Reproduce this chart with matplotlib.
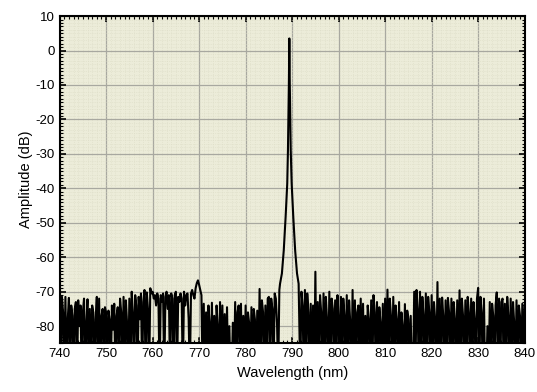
#! /usr/bin/env python3
#
# optical spectrum, single narrow line near 789 nm
#
import numpy as np
import matplotlib
matplotlib.use('Agg')
import matplotlib.pyplot as plt
from matplotlib.ticker import MultipleLocator

plt.rcParams['font.family'] = ['Liberation Sans', 'DejaVu Sans']
plt.rcParams['axes.unicode_minus'] = False

F = -95.0  # trace drops below the displayed floor

# noise, 0.25 nm steps, 740.00 .. 787.25
noise_left_start = 740.0
noise_left_db = [
    -72, F, -71.5, -76, F, -71.5, F, -78, -71.8, F, -74, -77, F, -75, -73, F, -72.5, -80, -74, F,        # 740
    -76, -72, F, -79, -72.2, F, -75, F, -74, -76, F, -78, -71.5, F, -72, F, -77, -75, F, -74.5,          # 745
    -76, F, -75.5, -78, F, -74, -81, -73.5, F, -77, -74.5, F, -72, -76, F, -71.5, F, -72.5, -79, F,      # 750
    -72, F, -70, -76, F, -71, -74, F, -71.5, -78, -70.5, F, -73, -69.5, F, -70.2, -75, F, -69, -70.5,    # 755
    -70, -72, -71, -74, -70.5, -72, F, -71, -73, -70.5, F, -71.5, -70, -75, -71, F, -70.5, -72, F, -71,  # 760
    -70, F, -71.5, -73, -70.5, -72, F, -70, -74, -71, -70.5, -78, F, -70.5, -69.5, -71, -72, -69, -67.5, -66.7,  # 765
    -68, -69.5, -71, F, -73.5, F, -76, F, -74, -79, F, -73.2, F, -77, F, -74, -80, F, -73, F,            # 770
    -74, F, -76.5, F, -74.5, F, -80, F, F, -79, F, -73, F, -76, -74, F, -73.5, F, -77, F,                # 775
    -74, F, -76, -79, F, -74.5, F, -75, -78, F, -75.5, F, -69.2, F, -72.5, -76, F, -74, F, -72,          # 780
    -71.5, F, -72, -75, F, -70.5, -72, -79, F, -69.5,                                                    # 785
]

# the laser line
peak_wl = [787.4, 787.8, 788.2, 788.6, 788.95, 789.1, 789.2, 789.3, 789.36, 789.4,
           789.44, 789.5, 789.6, 789.7, 789.9, 790.25, 790.65, 791.05, 791.4]
peak_db = [-67.7, -64.7, -58, -48.3, -38.6, -29, -20, -10, -2, 3.5,
           -2, -10, -20, -29, -38.6, -48.3, -58, -64.7, -67.7]

# noise, 0.25 nm steps, 791.75 .. 840.00
noise_right_start = 791.75
noise_right_db = [
    F, -70, -74, F, -69.5, F, -70.5, -76, F, -73.5, F, -74, F, -64.2,                                    # 791.75
    F, -73, F, -71, -76, F, -70.5, F, -71.5, -78, F, -70, F, -72, -75, F, -72.5, F, -71, -77,            # 795.25
    F, -71.5, F, -72, -77, F, -71, F, -72.5, -79, F, -69.5, F, -72.5, F, -76, -74, F, -72, F,            # 800.25
    -73.5, F, -77, F, -74, -78, F, -72.5, F, -71, -76, F, -73, F, -74.5, -79, F, -73.5, F, -72,          # 805.25
    F, -69.4, F, -72, -77, F, -71.5, F, -74, -78, F, -73, F, -76, -80, F, -73.6, F, -75.5, -78,          # 810.25
    F, -77, F, F, -70, F, -69.5, -75, F, -70, F, -71.5, -77, F, -70.5, F, -71.5, -76, F, -71,            # 815.25
    F, -73, -78, F, -67.2, F, -72, F, -71.7, -77, F, -72.5, F, -71.8, -76, F, -72, F, -73, -78,          # 820.25
    F, -72.5, F, -69.6, F, -72, -77, F, -72.5, F, -71.5, -76, F, -72, F, -73, -78, F, -72, -68.9,        # 825.25
    F, -71.5, -76, F, -72, F, F, -80, F, -73, F, -73.5, -77, F, -74, -70.2, F, -72, F, -73,              # 830.25
    -72, F, -73.5, F, -71.5, -77, F, -72, F, -73, -79, F, -72.5, F, -74, -77, F, -73.5, F, -74,          # 835.25
]

x_ticks = np.arange(740, 841, 10)
y_ticks = np.arange(-80, 11, 10)

wl_left = noise_left_start + 0.25 * np.arange(len(noise_left_db))
wl_right = noise_right_start + 0.25 * np.arange(len(noise_right_db))
wl = np.concatenate([wl_left, peak_wl, wl_right])
amp = np.concatenate([noise_left_db, peak_db, noise_right_db])

fig = plt.figure(figsize=(5.37, 3.92), dpi=100)
ax = fig.add_axes([0.111, 0.124, 0.866, 0.835])
ax.set_facecolor('#ececd9')

ax.plot(wl, amp, color='black', lw=1.5)

ax.set_xlim(740, 840)
ax.set_ylim(-85, 10)
ax.set_xticks(x_ticks)
ax.set_yticks(y_ticks)
ax.xaxis.set_minor_locator(MultipleLocator(1))
ax.yaxis.set_minor_locator(MultipleLocator(1))

ax.grid(which='major', color='#a8a8a0', lw=0.9)
ax.grid(which='minor', color='#dcdcc6', lw=0.5, ls=':')
ax.set_axisbelow(True)

ax.tick_params(which='both', direction='in', top=True, right=True, colors='black', labelsize=9.5)
ax.tick_params(which='major', length=4, width=1.2)
ax.tick_params(which='minor', length=2.5, width=0.8)
for s in ax.spines.values():
    s.set_linewidth(1.5)
    s.set_color('black')

ax.set_xlabel('Wavelength (nm)', fontsize=10.5, labelpad=4)
ax.set_ylabel('Amplitude (dB)', fontsize=10.5, labelpad=2)

fig.savefig('out.png', dpi=100)
